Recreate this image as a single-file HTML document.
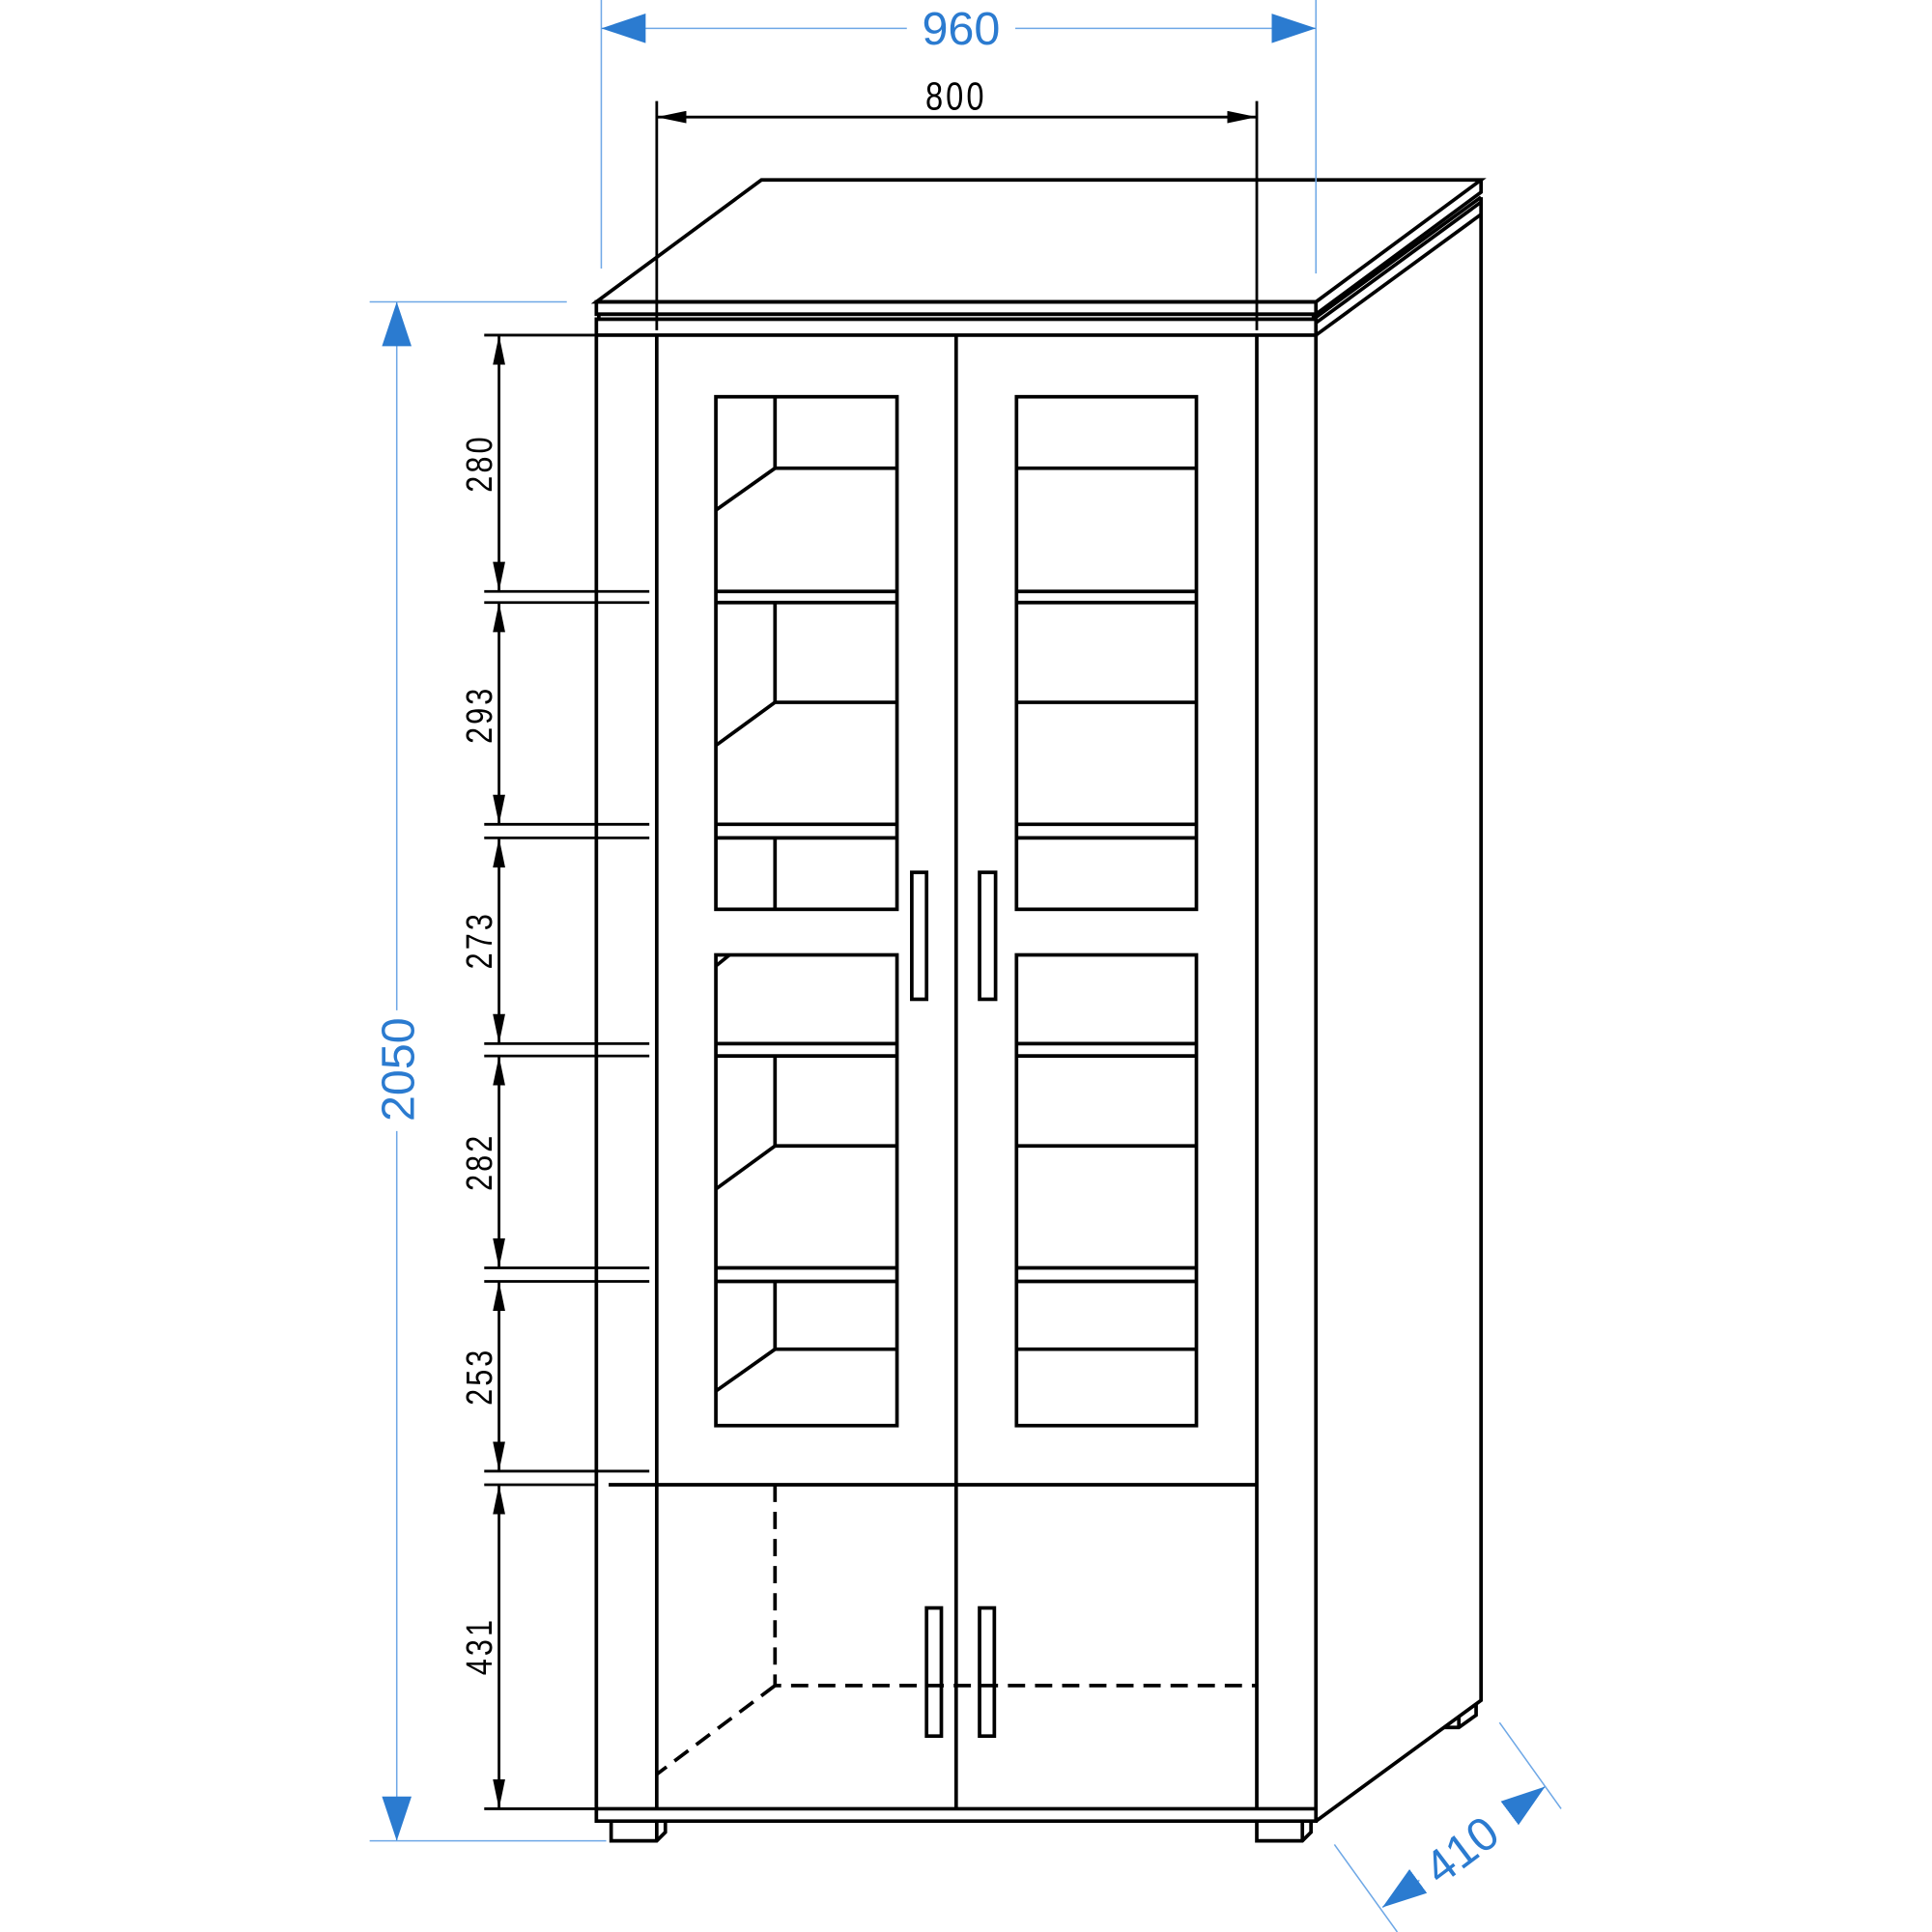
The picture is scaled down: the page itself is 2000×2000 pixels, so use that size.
<!DOCTYPE html>
<html><head><meta charset="utf-8"><style>html,body{margin:0;padding:0;background:#fff}svg{display:block}</style></head>
<body>
<svg width="2000" height="2000" viewBox="0 0 1568 1568" xmlns="http://www.w3.org/2000/svg">
<defs>
<marker id="ba" viewBox="0 0 24 10" refX="24" refY="5" markerWidth="24" markerHeight="10" markerUnits="userSpaceOnUse" orient="auto"><path d="M0,0 L24,5 L0,10 z" fill="#000"/></marker>
<marker id="bs" viewBox="0 0 24 10" refX="0" refY="5" markerWidth="24" markerHeight="10" markerUnits="userSpaceOnUse" orient="auto"><path d="M24,0 L0,5 L24,10 z" fill="#000"/></marker>
<marker id="ua" viewBox="0 0 36 24" refX="36" refY="12" markerWidth="36" markerHeight="24" markerUnits="userSpaceOnUse" orient="auto"><path d="M0,0 L36,12 L0,24 z" fill="#2b7bd0"/></marker>
<marker id="us" viewBox="0 0 36 24" refX="0" refY="12" markerWidth="36" markerHeight="24" markerUnits="userSpaceOnUse" orient="auto"><path d="M36,0 L0,12 L36,24 z" fill="#2b7bd0"/></marker>
</defs>
<g fill="none" stroke="#000" stroke-width="2.9" stroke-linejoin="miter">
<polygon points="484,245 618,146 1202,146 1068,245" fill="#fff"/>
<rect x="484" y="245" width="584" height="10"/>
<rect x="486" y="255" width="580" height="4"/>
<rect x="484" y="259" width="584" height="13"/>
<polyline points="1068,255 1202,156 1202,146"/>
<polyline points="1066,259 1202,160"/>
<polyline points="1068,262 1202,164"/>
<polyline points="1068,272 1202,174"/>
<polyline points="484,272 484,1478 1068,1478 1068,272"/>
<polyline points="1068,1478 1202,1380 1202,160"/>
<line x1="533" y1="272" x2="533" y2="1468"/>
<line x1="1020" y1="272" x2="1020" y2="1468"/>
<line x1="776" y1="272" x2="776" y2="1468"/>
<line x1="484" y1="1468" x2="1068" y2="1468"/>
<line x1="494" y1="1205" x2="1020" y2="1205"/>
<polyline points="496,1478 496,1494 533,1494 540,1487 540,1478"/>
<line x1="533" y1="1494" x2="533" y2="1478"/>
<polyline points="1020,1478 1020,1494 1057,1494 1064,1487 1064,1478"/>
<line x1="1057" y1="1494" x2="1057" y2="1478"/>
<polyline points="1172,1402 1184,1402 1198,1392 1198,1383"/>
<line x1="1184" y1="1402" x2="1184" y2="1393"/>
<rect x="581" y="322" width="147" height="416"/>
<rect x="825" y="322" width="146" height="416"/>
<rect x="581" y="775" width="147" height="382"/>
<rect x="825" y="775" width="146" height="382"/>
<g>
<line x1="581" y1="480" x2="728" y2="480"/><line x1="581" y1="489" x2="728" y2="489"/>
<line x1="825" y1="480" x2="971" y2="480"/><line x1="825" y1="489" x2="971" y2="489"/>
<line x1="581" y1="669" x2="728" y2="669"/><line x1="581" y1="680" x2="728" y2="680"/>
<line x1="825" y1="669" x2="971" y2="669"/><line x1="825" y1="680" x2="971" y2="680"/>
<line x1="581" y1="847" x2="728" y2="847"/><line x1="581" y1="857" x2="728" y2="857"/>
<line x1="825" y1="847" x2="971" y2="847"/><line x1="825" y1="857" x2="971" y2="857"/>
<line x1="581" y1="1029" x2="728" y2="1029"/><line x1="581" y1="1040" x2="728" y2="1040"/>
<line x1="825" y1="1029" x2="971" y2="1029"/><line x1="825" y1="1040" x2="971" y2="1040"/>
</g>
<polyline points="629,322 629,380 728,380"/><line x1="629" y1="380" x2="581" y2="414"/>
<polyline points="629,489 629,570 728,570"/><line x1="629" y1="570" x2="581" y2="605"/>
<line x1="629" y1="680" x2="629" y2="738"/>
<line x1="825" y1="380" x2="971" y2="380"/><line x1="825" y1="570" x2="971" y2="570"/>
<line x1="581" y1="784" x2="592" y2="775"/>
<polyline points="629,857 629,930 728,930"/><line x1="629" y1="930" x2="581" y2="965"/>
<polyline points="629,1040 629,1095 728,1095"/><line x1="629" y1="1095" x2="581" y2="1129"/>
<line x1="825" y1="930" x2="971" y2="930"/><line x1="825" y1="1095" x2="971" y2="1095"/>
<rect x="740" y="708" width="12" height="103"/>
<rect x="795" y="708" width="13" height="103"/>
<rect x="752" y="1305" width="12" height="104"/>
<rect x="795" y="1305" width="12" height="104"/>
<polyline points="629,1205 629,1368 1020,1368" stroke-dasharray="14,8"/>
<line x1="629" y1="1368" x2="533" y2="1440" stroke-dasharray="14,8"/>
</g>
<g stroke="#000" stroke-width="2.2" fill="none">
<line x1="393" y1="272" x2="484" y2="272"/>
<line x1="393" y1="480" x2="527" y2="480"/><line x1="393" y1="489" x2="527" y2="489"/>
<line x1="393" y1="669" x2="527" y2="669"/><line x1="393" y1="680" x2="527" y2="680"/>
<line x1="393" y1="847" x2="527" y2="847"/><line x1="393" y1="857" x2="527" y2="857"/>
<line x1="393" y1="1029" x2="527" y2="1029"/><line x1="393" y1="1040" x2="527" y2="1040"/>
<line x1="393" y1="1194" x2="527" y2="1194"/><line x1="393" y1="1205" x2="484" y2="1205"/>
<line x1="393" y1="1468" x2="484" y2="1468"/>
<line x1="405" y1="272" x2="405" y2="480" marker-start="url(#bs)" marker-end="url(#ba)"/>
<line x1="405" y1="489" x2="405" y2="669" marker-start="url(#bs)" marker-end="url(#ba)"/>
<line x1="405" y1="680" x2="405" y2="847" marker-start="url(#bs)" marker-end="url(#ba)"/>
<line x1="405" y1="857" x2="405" y2="1029" marker-start="url(#bs)" marker-end="url(#ba)"/>
<line x1="405" y1="1040" x2="405" y2="1194" marker-start="url(#bs)" marker-end="url(#ba)"/>
<line x1="405" y1="1205" x2="405" y2="1468" marker-start="url(#bs)" marker-end="url(#ba)"/>
<line x1="533" y1="82" x2="533" y2="268"/>
<line x1="1020" y1="82" x2="1020" y2="268"/>
<line x1="533" y1="95" x2="1020" y2="95" marker-start="url(#bs)" marker-end="url(#ba)"/>
</g>
<g font-family="Liberation Sans, sans-serif" font-size="30" fill="#000" text-anchor="middle" letter-spacing="3">
<text x="776" y="89" transform="scale(0.8,1) translate(194,0)" font-size="32">800</text>
<text transform="translate(399,376) rotate(-90) scale(0.8,1)">280</text>
<text transform="translate(399,580) rotate(-90) scale(0.8,1)">293</text>
<text transform="translate(399,763) rotate(-90) scale(0.8,1)">273</text>
<text transform="translate(399,943) rotate(-90) scale(0.8,1)">282</text>
<text transform="translate(399,1117) rotate(-90) scale(0.8,1)">253</text>
<text transform="translate(399,1336) rotate(-90) scale(0.8,1)">431</text>
</g>
<g stroke="#6fa8e6" stroke-width="1.2" fill="none">
<line x1="488" y1="0" x2="488" y2="218"/>
<line x1="1068" y1="0" x2="1068" y2="222"/>
<line x1="488" y1="23" x2="736" y2="23" marker-start="url(#us)"/>
<line x1="824" y1="23" x2="1068" y2="23" marker-end="url(#ua)"/>
<line x1="300" y1="245" x2="460" y2="245"/>
<line x1="300" y1="1494" x2="492" y2="1494"/>
<line x1="322" y1="245" x2="322" y2="820" marker-start="url(#us)"/>
<line x1="322" y1="918" x2="322" y2="1494" marker-end="url(#ua)"/>
<line x1="1083" y1="1497" x2="1134" y2="1568"/>
<line x1="1217" y1="1398" x2="1267" y2="1468"/>
<line x1="1122" y1="1548" x2="1152" y2="1526" marker-start="url(#us)"/>
<line x1="1226" y1="1471" x2="1254" y2="1450" marker-end="url(#ua)"/>
</g>
<g font-family="Liberation Sans, sans-serif" font-size="38" fill="#2b7bd0" text-anchor="middle">
<text x="780" y="36">960</text>
<text transform="translate(336,868) rotate(-90)">2050</text>
<text transform="translate(1194,1512) rotate(-37)">410</text>
</g>
</svg>
</body></html>
